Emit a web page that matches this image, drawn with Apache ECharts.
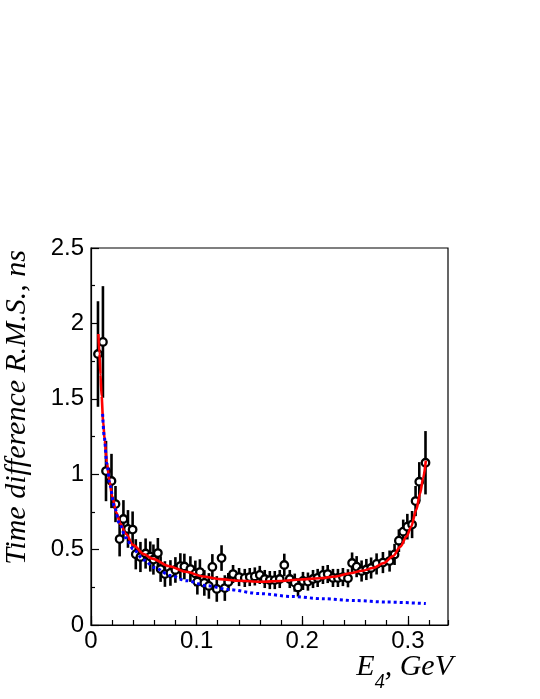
<!DOCTYPE html>
<html><head><meta charset="utf-8">
<script src="https://cdn.jsdelivr.net/npm/echarts/dist/echarts.min.js"></script>
<style>html,body{margin:0;padding:0;background:#fff}#c{width:540px;height:699px}</style>
</head><body><div id="c"></div>
<script>
// ---- data ----
const energy = [0.0066,0.0113,0.0142,0.0194,0.0232,0.0271,0.0307,0.0350,0.0394,0.0424,0.0468,0.0517,0.0561,0.0591,0.0633,0.0659,0.0700,0.0752,0.0799,0.0846,0.0884,0.0941,0.0988,0.1007,0.1031,0.1073,0.1116,0.1149,0.1191,0.1236,0.1267,0.1300,0.1345,0.1402,0.1456,0.1503,0.1551,0.1598,0.1645,0.1693,0.1740,0.1787,0.1830,0.1882,0.1929,0.1960,0.2007,0.2054,0.2102,0.2146,0.2196,0.2241,0.2291,0.2338,0.2385,0.2433,0.2472,0.2515,0.2562,0.2607,0.2652,0.2704,0.2764,0.2827,0.2874,0.2915,0.2956,0.2995,0.3040,0.3073,0.3108,0.3167];
const rms = [1.797,1.877,1.021,0.955,0.802,0.570,0.703,0.637,0.633,0.469,0.451,0.474,0.454,0.434,0.477,0.371,0.338,0.345,0.365,0.391,0.388,0.371,0.342,0.287,0.351,0.279,0.259,0.385,0.239,0.444,0.245,0.285,0.338,0.318,0.312,0.318,0.322,0.332,0.305,0.298,0.298,0.305,0.398,0.305,0.281,0.249,0.292,0.288,0.305,0.312,0.332,0.338,0.312,0.312,0.318,0.310,0.411,0.387,0.358,0.368,0.378,0.405,0.414,0.424,0.468,0.559,0.619,0.652,0.666,0.822,0.950,1.076];
const rmsErr = [0.35,0.37,0.2,0.18,0.12,0.115,0.125,0.125,0.12,
  0.1,0.1,0.1,0.1,0.1,0.1,
  0.085,0.085,0.085,0.085,0.085,0.085,0.085,0.085,0.085,0.085,0.085,0.085,0.085,0.085,0.085,0.085,
  0.06,0.06,0.06,0.06,0.06,0.06,0.06,0.06,0.06,0.06,0.06,0.075,0.06,0.06,0.06,0.06,0.06,0.06,0.06,0.06,0.06,0.06,0.06,0.06,0.06,
  0.07,0.07,0.07,0.07,0.07,0.07,0.07,0.07,0.07,
  0.075,0.08,0.085,0.09,0.1,0.13,0.21];
const binHalfWidth = 0.0035;
// red full fit curve
const fitE   = [0.007,0.008,0.009,0.010,0.0115,0.013,0.015,0.0175,0.020,0.024,0.028,0.033,0.040,0.050,0.058,0.074,0.090,0.106,0.122,0.14,0.16,0.18,0.198,0.216,0.232,0.245,0.257,0.267,0.277,0.286,0.293,0.2987,0.303,0.308,0.3115,0.3145,0.317];
const fitRms = [1.93,1.80,1.66,1.52,1.35,1.22,1.08,0.955,0.855,0.745,0.67,0.605,0.53,0.47,0.44,0.39,0.353,0.322,0.304,0.293,0.287,0.292,0.302,0.31,0.322,0.343,0.36,0.378,0.41,0.457,0.52,0.586,0.65,0.765,0.87,0.975,1.09];
// blue dotted component
const compE   = [0.011,0.0125,0.015,0.018,0.022,0.027,0.033,0.040,0.050,0.060,0.075,0.090,0.110,0.130,0.160,0.190,0.220,0.250,0.280,0.317];
const compRms = [1.40,1.25,1.07,0.924,0.787,0.672,0.578,0.503,0.431,0.381,0.329,0.294,0.260,0.235,0.208,0.189,0.174,0.162,0.152,0.142];
const xTickValues = [0, 0.1, 0.2, 0.3];
const yTickValues = [0, 0.5, 1, 1.5, 2, 2.5];
const yTitle = 'Time difference R.M.S., ns';
const xTitleMain = 'E', xTitleSub = '4', xTitleRest = ', GeV';

// ---- chart ----
const chart = echarts.init(document.getElementById('c'), null, {renderer:'canvas'});
const sans = '"Liberation Sans", Arial, Helvetica, sans-serif';
const serif = '"Liberation Serif", "DejaVu Serif", serif';
const ctx = document.createElement('canvas').getContext('2d');
function tw(t, size){ ctx.font = 'italic ' + size + 'px ' + serif; return ctx.measureText(t).width; }
const tSize = 30, sSize = 20;
const wE = tw(xTitleMain, tSize), w4 = tw(xTitleSub, sSize), wR = tw(xTitleRest, tSize);
const xRight = 453;
const x0 = xRight - (wE + w4 + wR);

const pts = energy.map((e,i)=>[e, rms[i], rmsErr[i]]);

const option = {
  animation: false,
  grid: {left: 91, right: 92, top: 248, bottom: 74, show: true, borderColor: '#000', borderWidth: 1.2, backgroundColor: 'transparent'},
  xAxis: [
    {type:'value', min:0, max:0.338, interval:0.1,
     axisLine:{show:true, onZero:false, lineStyle:{color:'#000', width:1.2}},
     axisTick:{show:true, inside:true, length:9, lineStyle:{color:'#000', width:1.2}},
     minorTick:{show:false}, splitLine:{show:false},
     axisLabel:{show:true, fontSize:24, color:'#000', fontFamily:sans, margin:4, showMaxLabel:false,
       formatter: v => xTickValues.some(t=>Math.abs(t-v)<1e-9) ? String(+v.toFixed(2)) : ''}},
    {type:'value', min:0, max:0.338, interval:0.02, position:'bottom',
     axisLine:{show:false}, axisTick:{show:true, inside:true, length:5, lineStyle:{color:'#000', width:1.2}},
     axisLabel:{show:false}, splitLine:{show:false}}
  ],
  yAxis: {type:'value', min:0, max:2.5, interval:0.5,
     axisLine:{show:true, lineStyle:{color:'#000', width:1.2}},
     axisTick:{show:true, inside:true, length:8, lineStyle:{color:'#000', width:1.2}},
     minorTick:{show:true, splitNumber:2, length:4, lineStyle:{color:'#000', width:1.2}},
     splitLine:{show:false},
     axisLabel:{fontSize:24, color:'#000', fontFamily:sans, margin:7,
       formatter: v => yTickValues.some(t=>Math.abs(t-v)<1e-9) ? String(+v.toFixed(2)) : ''}},
  series: [
    {type:'custom', xAxisIndex:0, z:2, data: pts,
     renderItem: function(params, api){
       const x = api.value(0), y = api.value(1), e = api.value(2);
       const top = api.coord([x, y+e]), bot = api.coord([x, y-e]);
       const l = api.coord([x-binHalfWidth, y]), r = api.coord([x+binHalfWidth, y]);
       return {type:'group', children:[
         {type:'line', shape:{x1:top[0],y1:top[1],x2:bot[0],y2:bot[1]}, style:{stroke:'#000', lineWidth:2.6}},
         {type:'line', shape:{x1:l[0],y1:l[1],x2:r[0],y2:r[1]}, style:{stroke:'#000', lineWidth:2.4}}
       ]};
     }},
    {type:'scatter', xAxisIndex:0, z:3, data: pts.map(p=>[p[0],p[1]]), symbol:'circle', symbolSize:7.5,
     itemStyle:{color:'#fff', borderColor:'#000', borderWidth:2.3, opacity:1}},
    {type:'line', xAxisIndex:0, z:4, data: fitE.map((e,i)=>[e, fitRms[i]]), smooth:0.3, smoothMonotone:'x',
     showSymbol:false, symbol:'none', lineStyle:{color:'#ff0000', width:2.6}},
    {type:'line', xAxisIndex:0, z:5, data: compE.map((e,i)=>[e, compRms[i]]), smooth:0.3, smoothMonotone:'x',
     showSymbol:false, symbol:'none', lineStyle:{color:'#0000ff', width:3, type:[3,3]}}
  ],
  graphic: [
    {type:'text', x:17, y:250, rotation:Math.PI/2,
     style:{text:yTitle, font:'italic ' + tSize + 'px ' + serif, fill:'#000',
            align:'right', verticalAlign:'middle', textAlign:'right', textVerticalAlign:'middle'}},
    {type:'text', x:x0, y:667,
     style:{text:xTitleMain, font:'italic ' + tSize + 'px ' + serif, fill:'#000', align:'left', verticalAlign:'middle', textAlign:'left', textVerticalAlign:'middle'}},
    {type:'text', x:x0 + wE, y:683,
     style:{text:xTitleSub, font:'italic ' + sSize + 'px ' + serif, fill:'#000', align:'left', verticalAlign:'middle', textAlign:'left', textVerticalAlign:'middle'}},
    {type:'text', x:x0 + wE + w4, y:667,
     style:{text:xTitleRest, font:'italic ' + tSize + 'px ' + serif, fill:'#000', align:'left', verticalAlign:'middle', textAlign:'left', textVerticalAlign:'middle'}}
  ]
};
chart.setOption(option);
</script>
</body></html>
